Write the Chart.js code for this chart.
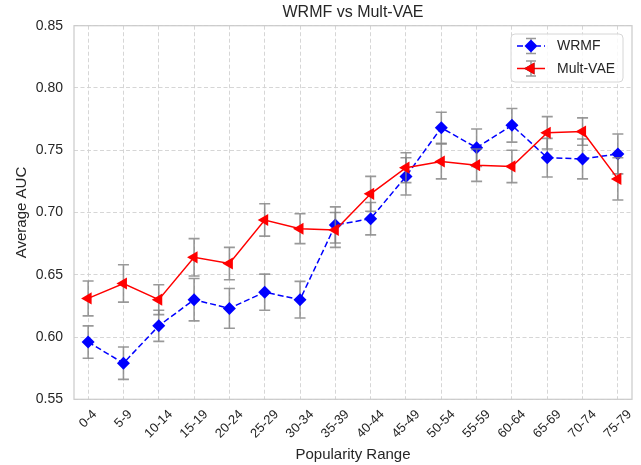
<!DOCTYPE html>
<html>
<head>
<meta charset="utf-8">
<script src="https://cdn.jsdelivr.net/npm/chart.js@4.4.0/dist/chart.umd.min.js"></script>
<style>
  html, body { margin: 0; padding: 0; background: #ffffff; }
  #wrap { width: 641px; height: 465px; }
</style>
</head>
<body>
<div id="wrap"><canvas id="c" width="641" height="465"></canvas></div>
<script>
const categories = ["0-4","5-9","10-14","15-19","20-24","25-29","30-34","35-39","40-44","45-49","50-54","55-59","60-64","65-69","70-74","75-79"];
const wrmfValues = [0.596, 0.579, 0.609, 0.630, 0.623, 0.636, 0.630, 0.690, 0.695, 0.729, 0.768, 0.752, 0.770, 0.744, 0.743, 0.747];
const wrmfErrors = [0.013, 0.013, 0.0125, 0.017, 0.016, 0.0145, 0.0147, 0.0145, 0.013, 0.015, 0.0125, 0.015, 0.0135, 0.0155, 0.016, 0.016];
const multVaeValues = [0.631, 0.643, 0.630, 0.664, 0.659, 0.694, 0.687, 0.686, 0.715, 0.736, 0.741, 0.738, 0.737, 0.764, 0.765, 0.727];
const multVaeErrors = [0.014, 0.015, 0.012, 0.015, 0.013, 0.013, 0.012, 0.014, 0.014, 0.012, 0.014, 0.013, 0.013, 0.013, 0.011, 0.017];
const yTicks = [0.55, 0.60, 0.65, 0.70, 0.75, 0.80, 0.85];
const seriesNames = ["WRMF", "Mult-VAE"];
const chartTitle = "WRMF vs Mult-VAE";
const xTitle = "Popularity Range";
const yTitle = "Average AUC";

const TEXT = '#262626';
const FONT = "'Liberation Sans', Arial, sans-serif";
const errorSets = [wrmfErrors, multVaeErrors];
const ERR_COLOR = 'rgba(128,128,128,0.8)';

function drawErrBar(ctx, x, yTop, yBot, cap) {
  ctx.beginPath();
  ctx.moveTo(x, yTop); ctx.lineTo(x, yBot);
  ctx.moveTo(x - cap, yTop); ctx.lineTo(x + cap, yTop);
  ctx.moveTo(x - cap, yBot); ctx.lineTo(x + cap, yBot);
  ctx.stroke();
}

const errorBarPlugin = {
  id: 'errorBars',
  beforeDatasetDraw(chart, args) {
    const ctx = chart.ctx;
    const ys = chart.scales.y, xs = chart.scales.x;
    const ds = chart.data.datasets[args.index];
    const errs = errorSets[args.index];
    ctx.save();
    ctx.strokeStyle = ERR_COLOR;
    ctx.lineWidth = 1.6;
    ctx.setLineDash([]);
    ds.data.forEach((p, i) => {
      const x = xs.getPixelForValue(p.x);
      drawErrBar(ctx, x, ys.getPixelForValue(p.y + errs[i]), ys.getPixelForValue(p.y - errs[i]), 5.5);
    });
    ctx.restore();
  }
};

const framePlugin = {
  id: 'frameAndText',
  beforeDatasetsDraw(chart) {
    const {ctx, chartArea: a} = chart;
    ctx.save();
    ctx.strokeStyle = '#cccccc';
    ctx.lineWidth = 1.25;
    ctx.strokeRect(a.left, a.top, a.right - a.left, a.bottom - a.top);
    ctx.restore();
  },
  afterDraw(chart) {
    const {ctx, chartArea: a} = chart;
    const xs = chart.scales.x;
    ctx.save();
    // title
    ctx.fillStyle = TEXT;
    ctx.font = "16px " + FONT;
    ctx.textAlign = 'center';
    ctx.textBaseline = 'middle';
    ctx.fillText(chartTitle, (a.left + a.right) / 2, 12.5);
    // x tick labels, rotated 45 deg, centred under tick
    const fs = 13;
    ctx.font = fs + "px " + FONT;
    categories.forEach((lab, i) => {
      const px = xs.getPixelForValue(i);
      const w = ctx.measureText(lab).width;
      const half = (w + fs * 1.1) * Math.SQRT1_2 / 2;
      ctx.save();
      ctx.translate(px, a.bottom + 8 + half);
      ctx.rotate(-Math.PI / 4);
      ctx.textAlign = 'center';
      ctx.textBaseline = 'middle';
      ctx.fillText(lab, 0, 0);
      ctx.restore();
    });
    // legend
    const bx = 511, by = 34, bw = 112, bh = 48, r = 4;
    ctx.beginPath();
    ctx.moveTo(bx + r, by);
    ctx.arcTo(bx + bw, by, bx + bw, by + bh, r);
    ctx.arcTo(bx + bw, by + bh, bx, by + bh, r);
    ctx.arcTo(bx, by + bh, bx, by, r);
    ctx.arcTo(bx, by, bx + bw, by, r);
    ctx.closePath();
    ctx.fillStyle = 'rgba(255,255,255,0.85)';
    ctx.fill();
    ctx.strokeStyle = '#d6d6d6';
    ctx.lineWidth = 1;
    ctx.stroke();
    const rows = [46, 68.5];
    chart.data.datasets.forEach((ds, k) => {
      const yy = rows[k];
      const cx = 531;
      ctx.strokeStyle = ERR_COLOR;
      ctx.lineWidth = 1.6;
      ctx.setLineDash([]);
      drawErrBar(ctx, cx, yy - 7.5, yy + 7.5, 5);
      ctx.strokeStyle = ds.borderColor;
      ctx.lineWidth = 1.5;
      ctx.setLineDash(ds.borderDash || []);
      ctx.beginPath();
      ctx.moveTo(517, yy); ctx.lineTo(545, yy);
      ctx.stroke();
      ctx.setLineDash([]);
      Chart.helpers.drawPoint(ctx, {
        pointStyle: ds.pointStyle, radius: ds.pointRadius, rotation: ds.pointRotation || 0, borderWidth: 0
      }, cx, yy);
      ctx.fillStyle = ds.pointBackgroundColor;
      ctx.fill();
      ctx.fillStyle = TEXT;
      ctx.font = "14px " + FONT;
      ctx.textAlign = 'left';
      ctx.textBaseline = 'middle';
      ctx.fillText(seriesNames[k], 557, yy + 0.5);
    });
    ctx.restore();
  }
};

const toPoints = vals => vals.map((v, i) => ({x: i, y: v}));

new Chart(document.getElementById('c'), {
  type: 'line',
  data: {
    datasets: [
      {
        label: seriesNames[0],
        data: toPoints(wrmfValues),
        borderColor: '#0000ff',
        backgroundColor: '#0000ff',
        borderWidth: 1.5,
        borderDash: [6, 3],
        pointStyle: 'rectRot',
        pointRadius: 6.5,
        pointHoverRadius: 6.5,
        pointBackgroundColor: '#0000ff',
        pointBorderColor: '#0000ff',
        pointBorderWidth: 0,
        tension: 0,
        order: 2
      },
      {
        label: seriesNames[1],
        data: toPoints(multVaeValues),
        borderColor: '#ff0000',
        backgroundColor: '#ff0000',
        borderWidth: 1.5,
        pointStyle: 'triangle',
        pointRotation: -90,
        pointRadius: 7,
        pointHoverRadius: 7,
        pointBackgroundColor: '#ff0000',
        pointBorderColor: '#ff0000',
        pointBorderWidth: 0,
        tension: 0,
        order: 1
      }
    ]
  },
  options: {
    responsive: false,
    animation: false,
    devicePixelRatio: 1,
    layout: { padding: { top: 25.7, right: 9, bottom: 0, left: 0 } },
    plugins: {
      legend: { display: false },
      title: { display: false },
      tooltip: { enabled: false }
    },
    scales: {
      x: {
        type: 'linear',
        min: -0.4,
        max: 15.4,
        afterBuildTicks(scale) { scale.ticks = categories.map((c, i) => ({value: i})); },
        afterFit(scale) { scale.height = 65.7; },
        ticks: { display: false },
        grid: { color: 'rgba(210,210,210,0.9)', lineWidth: 1, drawTicks: false },
        border: { display: false, dash: [4, 2.5] },
        title: { display: true, text: xTitle, color: TEXT, font: { family: FONT, size: 15 }, padding: { top: 0, bottom: 1 } }
      },
      y: {
        type: 'linear',
        min: 0.55,
        max: 0.85,
        afterBuildTicks(scale) { scale.ticks = yTicks.map(v => ({value: v})); },
        afterFit(scale) { scale.width = 74; },
        ticks: { color: TEXT, font: { family: FONT, size: 14 }, padding: 11, callback: v => v.toFixed(2) },
        grid: { color: 'rgba(210,210,210,0.9)', lineWidth: 1, drawTicks: false },
        border: { display: false, dash: [4, 2.5] },
        title: { display: true, text: yTitle, color: TEXT, font: { family: FONT, size: 15 }, padding: { top: 13, bottom: 0 } }
      }
    }
  },
  plugins: [errorBarPlugin, framePlugin]
});
</script>
</body>
</html>
